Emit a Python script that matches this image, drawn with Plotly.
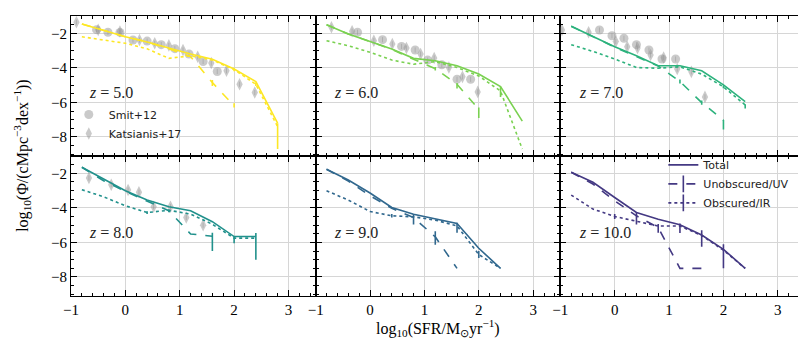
import plotly.graph_objects as go
from plotly.subplots import make_subplots

# SFR bins (log10 SFR)
x_bins = [-0.8, -0.4, 0.0, 0.4, 0.8, 1.2, 1.6, 2.0, 2.4, 2.8]
redshifts = [5.0, 6.0, 7.0, 8.0, 9.0, 10.0]
colors = ["#fde725", "#7ad151", "#2db27d", "#21918c", "#31688e", "#443983"]

# total / unobscured (UV) / obscured (IR) SFRF per redshift
total_z5 = [-1.46, -1.85, -2.2, -2.5, -2.85, -3.2, -3.5, -4.07, -4.8, -7.2]
uv_z5 = [-1.46, -1.85, -2.2, -2.5, -2.9, -3.35, -4.85, -6.2]
ir_z5 = [-2.2, -2.37, -2.58, -2.9, -3.45, -3.3, -3.55, -4.1, -4.95, -7.4]

total_z6 = [-1.5, -2.04, -2.48, -2.91, -3.45, -3.59, -3.88, -4.36, -5.08, -7.08]
uv_z6 = [-1.5, -2.04, -2.48, -2.93, -3.5, -4.05, -4.95, -6.4]
ir_z6 = [-2.43, -2.72, -3.1, -3.55, -3.79, -3.64, -3.98, -4.47, -5.34, -8.7]

total_z7 = [-1.59, -2.19, -2.78, -3.3, -3.88, -3.88, -4.17, -4.98, -5.95]
uv_z7 = [-1.59, -2.19, -2.8, -3.35, -3.9, -4.79, -6.01, -7.02]
ir_z7 = [-2.66, -3.05, -3.49, -3.98, -4.02, -3.94, -4.36, -5.1, -6.15]

total_z8 = [-1.65, -2.33, -3.01, -3.55, -3.94, -4.17, -4.8, -5.66, -5.66]
uv_z8 = [-1.65, -2.43, -3.05, -3.63, -4.17, -5.51, -5.64]
ir_z8 = [-2.95, -3.36, -3.88, -4.27, -4.14, -4.36, -4.95, -5.75, -5.75]

total_z9 = [-1.77, -2.39, -3.14, -3.98, -4.37, -4.64, -4.91, -6.34, -7.5]
uv_z9 = [-1.77, -2.45, -3.3, -4.03, -4.56, -5.68, -7.5]
ir_z9 = [-3.01, -3.55, -4.21, -4.46, -4.52, -4.71, -5.04, -6.7, -7.5]

total_z10 = [-1.94, -2.52, -3.4, -4.27, -4.66, -4.98, -5.57, -6.4, -7.5]
uv_z10 = [-1.94, -2.62, -3.59, -4.46, -5.14, -7.5, -7.5]
ir_z10 = [-3.26, -4.07, -4.5, -4.79, -5.05, -5.05, -5.6, -6.45, -7.5]

# error bars: (log SFR, up, down)
uv_err_z5 = [(1.6, 0.15, 0.2), (2.0, 0.15, 0.1)]
ir_err_z5 = [(2.0, 0.1, 0.1), (2.4, 0.1, 0.1), (2.8, 0.2, 1.3)]
uv_err_z6 = [(1.2, 0.1, 0.1), (1.6, 0.08, 0.25), (2.0, 0.1, 0.5)]
ir_err_z6 = [(2.4, 0.25, 0.35)]
uv_err_z7 = [(1.2, 0.12, 0.12), (1.6, 0.12, 0.12), (2.0, 0.0, 0.55)]
ir_err_z7 = [(2.0, 0.08, 0.08), (2.4, 0.05, 0.2)]
uv_err_z8 = [(0.8, 0.08, 0.08), (1.6, 0.2, 0.85)]
ir_err_z8 = [(0.4, 0.08, 0.08), (2.0, 0.1, 0.3), (2.4, 0.3, 1.25)]
uv_err_z9 = [(0.8, 0.2, 0.4), (1.2, 0.32, 0.46)]
ir_err_z9 = [(0.4, 0.1, 0.1), (1.6, 0.18, 0.4), (2.0, 0.2, 0.2)]
uv_err_z10 = [(0.4, 0.2, 0.5), (0.8, 0.2, 0.3)]
ir_err_z10 = [(0.0, 0.15, 0.15), (1.2, 0.15, 0.4), (1.6, 0.3, 0.65), (2.0, 0.35, 1.05)]

# observations
smit_x_z5 = [-0.53, -0.32, -0.1, 0.14, 0.40, 0.66, 0.91, 1.17, 1.43, 1.69]
smit_y_z5 = [-1.79, -1.94, -1.95, -2.39, -2.45, -2.66, -2.89, -3.2, -3.63, -4.21]
smit_x_z6 = [-0.23, 0.23, 0.58, 0.83, 1.06, 1.32, 1.60, 1.85]
smit_y_z6 = [-1.94, -2.37, -2.76, -2.97, -3.55, -3.82, -4.66, -4.66]
smit_x_z7 = [-0.28, -0.05, 0.17, 0.40, 0.63, 0.87, 1.12]
smit_y_z7 = [-1.81, -2.14, -2.29, -2.66, -2.97, -3.49, -3.49]

kats_x_z5 = [-0.9, -0.5, -0.1, 0.26, 0.54, 0.80, 1.06, 1.33, 1.58, 1.86, 2.10, 2.38]
kats_y_z5 = [-1.36, -1.8, -1.9, -2.39, -2.58, -2.70, -2.97, -3.36, -3.72, -4.17, -4.95, -5.43]
kats_x_z6 = [-0.71, -0.33, 0.07, 0.41, 0.67, 0.93, 1.18, 1.45, 1.70, 1.98]
kats_y_z6 = [-1.65, -1.88, -2.43, -2.62, -2.85, -3.2, -3.43, -3.98, -4.52, -5.39]
kats_x_z7 = [-0.97, -0.48, 0.02, 0.23, 0.42, 0.66, 0.90, 1.15, 1.41, 1.66]
kats_y_z7 = [-1.81, -1.94, -2.48, -2.78, -2.85, -3.26, -3.4, -4.07, -4.23, -5.68]
kats_x_z8 = [-0.67, -0.26, 0.05, 0.25, 0.52, 0.83, 1.12, 1.43]
kats_y_z8 = [-2.27, -2.66, -2.97, -3.1, -3.94, -3.94, -4.56, -5.0]

panels = [
    (total_z5, uv_z5, ir_z5, uv_err_z5, ir_err_z5),
    (total_z6, uv_z6, ir_z6, uv_err_z6, ir_err_z6),
    (total_z7, uv_z7, ir_z7, uv_err_z7, ir_err_z7),
    (total_z8, uv_z8, ir_z8, uv_err_z8, ir_err_z8),
    (total_z9, uv_z9, ir_z9, uv_err_z9, ir_err_z9),
    (total_z10, uv_z10, ir_z10, uv_err_z10, ir_err_z10),
]
smit = {0: (smit_x_z5, smit_y_z5), 1: (smit_x_z6, smit_y_z6), 2: (smit_x_z7, smit_y_z7)}
kats = {0: (kats_x_z5, kats_y_z5), 1: (kats_x_z6, kats_y_z6),
        2: (kats_x_z7, kats_y_z7), 3: (kats_x_z8, kats_y_z8)}

X_RANGE = [-1, 3.5]
Y_RANGE = [-9.1, -1]
SERIF = "Liberation Serif"
SANS = "DejaVu Sans"
GREY = "rgba(150,150,150,0.5)"


def err_arrays(ys, errs):
    up = [0.0] * len(ys)
    down = [0.0] * len(ys)
    for xe, u, d in errs:
        i = x_bins.index(xe)
        up[i], down[i] = u, d
    return up, down


fig = make_subplots(rows=2, cols=3, horizontal_spacing=0, vertical_spacing=0)

for k, (tot, uv, ir, uv_err, ir_err) in enumerate(panels):
    r, c = k // 3 + 1, k % 3 + 1
    col = colors[k]

    # observations first (behind the lines)
    if k in smit:
        sx, sy = smit[k]
        fig.add_trace(go.Scatter(
            x=sx, y=sy, mode="markers", name="Smit+12", legend="legend",
            showlegend=(k == 0),
            marker=dict(symbol="circle", size=9, color=GREY),
            error_y=dict(type="constant", value=0.15, width=0, thickness=1, color=GREY),
        ), row=r, col=c)
    if k in kats:
        kx, ky = kats[k]
        fig.add_trace(go.Scatter(
            x=kx, y=ky, mode="markers", name="Katsianis+17", legend="legend",
            showlegend=(k == 0),
            marker=dict(symbol="diamond-tall", size=9, color=GREY),
            error_y=dict(type="constant", value=0.15, width=0, thickness=1, color=GREY),
        ), row=r, col=c)

    fig.add_trace(go.Scatter(
        x=x_bins[:len(tot)], y=tot, mode="lines", showlegend=False,
        line=dict(color=col, width=1.6),
    ), row=r, col=c)

    up, down = err_arrays(uv, uv_err)
    fig.add_trace(go.Scatter(
        x=x_bins[:len(uv)], y=uv, mode="lines", showlegend=False,
        line=dict(color=col, width=1.6, dash="dash"),
        error_y=dict(type="data", array=up, arrayminus=down, width=0, thickness=1.6, color=col),
    ), row=r, col=c)

    up, down = err_arrays(ir, ir_err)
    fig.add_trace(go.Scatter(
        x=x_bins[:len(ir)], y=ir, mode="lines", showlegend=False,
        line=dict(color=col, width=1.6, dash="dot"),
        error_y=dict(type="data", array=up, arrayminus=down, width=0, thickness=1.6, color=col),
    ), row=r, col=c)

    fig.add_annotation(
        text="<i>z</i> = %.1f" % redshifts[k], x=-0.7, y=-5.45, xanchor="left",
        yanchor="middle", showarrow=False, font=dict(family=SERIF, size=16, color="#222"),
        row=r, col=c,
    )

# legend entries for the line styles (last panel)
c10 = colors[5]
fig.add_trace(go.Scatter(x=[None], y=[None], mode="lines", name="Total", legend="legend2",
                         line=dict(color=c10, width=1.6)), row=2, col=3)
fig.add_trace(go.Scatter(x=[None], y=[None], mode="lines+markers", name="Unobscured/UV",
                         legend="legend2", line=dict(color=c10, width=1.6, dash="dash"),
                         marker=dict(symbol="line-ns", size=12, line=dict(width=1.6, color=c10))),
              row=2, col=3)
fig.add_trace(go.Scatter(x=[None], y=[None], mode="lines+markers", name="Obscured/IR",
                         legend="legend2", line=dict(color=c10, width=1.6, dash="dot"),
                         marker=dict(symbol="line-ns", size=12, line=dict(width=1.6, color=c10))),
              row=2, col=3)

axis_common = dict(
    showline=True, linecolor="black", linewidth=1, mirror=True,
    ticks="inside", ticklen=6, tickwidth=1, tickcolor="black",
    showgrid=True, gridcolor="#d6d6d6", gridwidth=1, zeroline=False,
    tickfont=dict(family=SERIF, size=15, color="black"),
)
x_minor = dict(dtick=0.2, ticks="inside", ticklen=3, tickcolor="black", showgrid=False)
y_minor = dict(dtick=0.5, ticks="inside", ticklen=3, tickcolor="black", showgrid=False)
for k in range(6):
    r, c = k // 3 + 1, k % 3 + 1
    fig.update_xaxes(range=X_RANGE, dtick=1, tick0=0, minor=x_minor,
                     showticklabels=(r == 2), **axis_common, row=r, col=c)
    fig.update_yaxes(range=Y_RANGE, dtick=2, tick0=0, minor=y_minor,
                     showticklabels=(c == 1), **axis_common, row=r, col=c)

# tick marks on the top and right edges of every panel (overlay axes)
tick_only = dict(ticks="inside", ticklen=6, tickwidth=1, tickcolor="black",
                 showgrid=False, zeroline=False, showline=False, showticklabels=False)
for k in range(6):
    n = k + 1
    m = k + 7
    fig.add_trace(go.Scatter(x=[None], y=[None], xaxis="x%d" % m, yaxis="y%d" % m,
                             showlegend=False, hoverinfo="skip"))
    fig.update_layout({
        "xaxis%d" % m: dict(overlaying="x%d" % n, anchor="y%d" % n, side="top",
                            range=X_RANGE, dtick=1, tick0=0, minor=x_minor, **tick_only),
        "yaxis%d" % m: dict(overlaying="y%d" % n, anchor="x%d" % n, side="right",
                            range=Y_RANGE, dtick=2, tick0=0, minor=y_minor, **tick_only),
    })

fig.add_annotation(
    text="log<sub>10</sub>(Φ/(cMpc<sup>−3</sup>dex<sup>−1</sup>))", textangle=-90,
    xref="paper", yref="paper", x=-0.067, y=0.5, xanchor="center", yanchor="middle",
    showarrow=False, font=dict(family=SERIF, size=16, color="black"),
)
fig.add_annotation(
    text="log<sub>10</sub>(SFR/M<sub>⊙</sub>yr<sup>−1</sup>)",
    xref="paper", yref="paper", x=0.5, y=-0.115, xanchor="center", yanchor="middle",
    showarrow=False, font=dict(family=SERIF, size=16, color="black"),
)

fig.update_layout(
    width=806, height=342,
    margin=dict(l=63, r=9, t=8, b=54),
    plot_bgcolor="white", paper_bgcolor="white",
    legend=dict(x=-0.003, y=0.70, xanchor="left", yanchor="top", bgcolor="rgba(0,0,0,0)",
                font=dict(family=SANS, size=11, color="#222"), tracegroupgap=0),
    legend2=dict(x=0.807, y=0.52, xanchor="left", yanchor="top", bgcolor="rgba(0,0,0,0)",
                 font=dict(family=SANS, size=11, color="#222"), tracegroupgap=0),
)

fig.write_html("out.html")
